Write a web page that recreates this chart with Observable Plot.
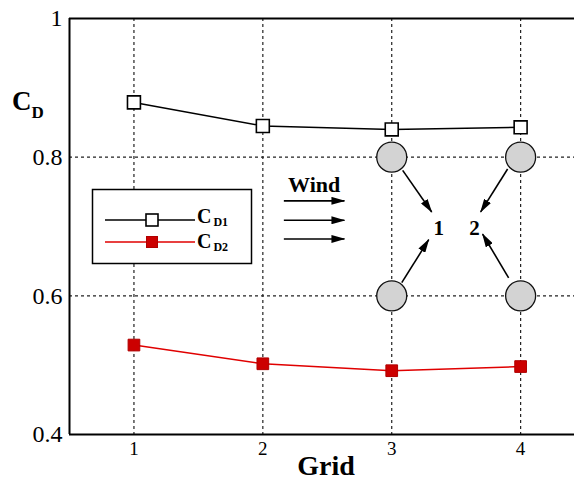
<!DOCTYPE html>
<html><head><meta charset="utf-8">
<script src="https://cdn.jsdelivr.net/npm/d3@7"></script>
<script src="https://cdn.jsdelivr.net/npm/@observablehq/plot@0.6"></script>
<style>body{margin:0;background:#fff} #chart{width:574px;height:479px}</style>
</head><body><div id="chart"></div>
<script>
// ---- data ----
const grids = [1, 2, 3, 4];
const cd1 = [0.879, 0.845, 0.840, 0.843];
const cd2 = [0.529, 0.502, 0.492, 0.498];
const yTicks = [0.4, 0.6, 0.8, 1];
const xTicks = [1, 2, 3, 4];
const seriesNames = ["D1", "D2"];
// inset sketch (cylinders, flow arrows, labels), in data units
const cylX = [3, 4, 3, 4];
const cylY = [0.8, 0.8, 0.6, 0.6];
const flowX1 = [3.085, 3.078, 3.899, 3.907];
const flowY1 = [0.781, 0.619, 0.783, 0.626];
const flowX2 = [3.31, 3.287, 3.69, 3.705];
const flowY2 = [0.721, 0.681, 0.721, 0.689];
const pointLabels = ["1", "2"];
const pointLabelX = [3.364, 3.643];
const pointLabelY = [0.698, 0.698];
const windY = [0.737, 0.709, 0.682];
const windX1 = 2.163, windX2 = 2.633;
const windLabel = "Wind";

const rows1 = grids.map((g, i) => ({grid: g, cd: cd1[i]}));
const rows2 = grids.map((g, i) => ({grid: g, cd: cd2[i]}));
const cyl = cylX.map((x, i) => ({x, y: cylY[i]}));
const arrows = flowX1.map((x, i) => ({x1: x, y1: flowY1[i], x2: flowX2[i], y2: flowY2[i]}))
  .concat(windY.map(y => ({x1: windX1, y1: y, x2: windX2, y2: y})));
const labels = pointLabels.map((t, i) => ({t, x: pointLabelX[i], y: pointLabelY[i]}));

const font = "'Liberation Serif', 'Times New Roman', serif";
const dash = {stroke: "#222", strokeDasharray: "3,3", strokeWidth: 1.2};

const svg = Plot.plot({
  width: 574, height: 479,
  marginLeft: 69, marginRight: 0, marginTop: 18, marginBottom: 45,
  style: {fontFamily: font, background: "white", overflow: "hidden"},
  x: {domain: [0.5, 4.418]},
  y: {domain: [0.4, 1]},
  marks: [
    Plot.ruleX(grids, dash),
    Plot.ruleY([0.6, 0.8], dash),
    Plot.ruleX([0.5], {stroke: "black", strokeWidth: 2}),
    Plot.ruleY([0.4, 1], {stroke: "black", strokeWidth: 2}),
    Plot.axisX({ticks: xTicks, tickSize: 0, tickPadding: 7, fontSize: 19, label: null, tickFormat: d => String(d)}),
    Plot.axisY({ticks: yTicks, tickSize: 0, tickPadding: 7, fontSize: 24, label: null, tickFormat: d => d === 1 ? "1" : d.toFixed(1)}),
    Plot.dot(cyl, {x: "x", y: "y", r: 15, fill: "#d3d3d3", stroke: "#111", strokeWidth: 1.3}),
    Plot.link(arrows, {x1: "x1", y1: "y1", x2: "x2", y2: "y2", stroke: "black", strokeWidth: 1.6}),
    Plot.text(labels, {x: "x", y: "y", text: "t", fontWeight: "bold", fontSize: 21}),
    Plot.text([windLabel], {x: (windX1 + windX2) / 2, y: 0.76, text: d => d, fontWeight: "bold", fontSize: 22}),
    Plot.line(rows1, {x: "grid", y: "cd", stroke: "black", strokeWidth: 1.5}),
    Plot.dot(rows1, {x: "grid", y: "cd", symbol: "square", r: 7.3, fill: "white", stroke: "black", strokeWidth: 1.6}),
    Plot.line(rows2, {x: "grid", y: "cd", stroke: "#e00000", strokeWidth: 1.5}),
    Plot.dot(rows2, {x: "grid", y: "cd", symbol: "square", r: 6.6, fill: "#cc0000", stroke: "#b00000", strokeWidth: 1})
  ]
});

const s = d3.select(svg);
// filled arrowheads
const defs = s.insert("defs", ":first-child");
defs.append("marker").attr("id", "ah").attr("viewBox", "0 0 14 8").attr("refX", 13).attr("refY", 4)
  .attr("markerWidth", 14).attr("markerHeight", 8).attr("markerUnits", "userSpaceOnUse").attr("orient", "auto")
  .append("path").attr("d", "M0,0L14,4L0,8Z").attr("fill", "black");
s.selectAll('g[aria-label="link"] path').attr("marker-end", "url(#ah)");

// legend
const lg = s.append("g").attr("font-family", font).attr("text-anchor", "start");
lg.append("rect").attr("x", 92.5).attr("y", 189.5).attr("width", 159).attr("height", 74)
  .attr("fill", "white").attr("stroke", "black").attr("stroke-width", 1.5);
const lrows = [{y: 220, ty: 223, stroke: "black", fill: "white", sz: 12}, {y: 242, ty: 248, stroke: "#e00000", fill: "#cc0000", sz: 11}];
lrows.forEach((r, i) => {
  lg.append("line").attr("x1", 105).attr("x2", 195).attr("y1", r.y).attr("y2", r.y).attr("stroke", r.stroke).attr("stroke-width", 1.5);
  lg.append("rect").attr("x", 152 - r.sz / 2).attr("y", r.y - r.sz / 2).attr("width", r.sz).attr("height", r.sz)
    .attr("fill", r.fill).attr("stroke", i === 0 ? "black" : "#b00000").attr("stroke-width", i === 0 ? 1.6 : 1);
  const t = lg.append("text").attr("x", 197).attr("y", r.ty).attr("font-weight", "bold").attr("font-size", 20).text("C");
  t.append("tspan").attr("font-size", 12).attr("dx", 2).attr("dy", 3).text(seriesNames[i]);
});

// axis titles
const yl = s.append("text").attr("x", 12).attr("y", 110).attr("text-anchor", "start").attr("font-family", font)
  .attr("font-weight", "bold").attr("font-size", 27).text("C");
yl.append("tspan").attr("font-size", 17).attr("dy", 8).text("D");
s.append("text").attr("x", 326).attr("y", 475).attr("text-anchor", "middle").attr("font-family", font)
  .attr("font-weight", "bold").attr("font-size", 28).text("Grid");

document.getElementById("chart").appendChild(svg);
</script></body></html>
